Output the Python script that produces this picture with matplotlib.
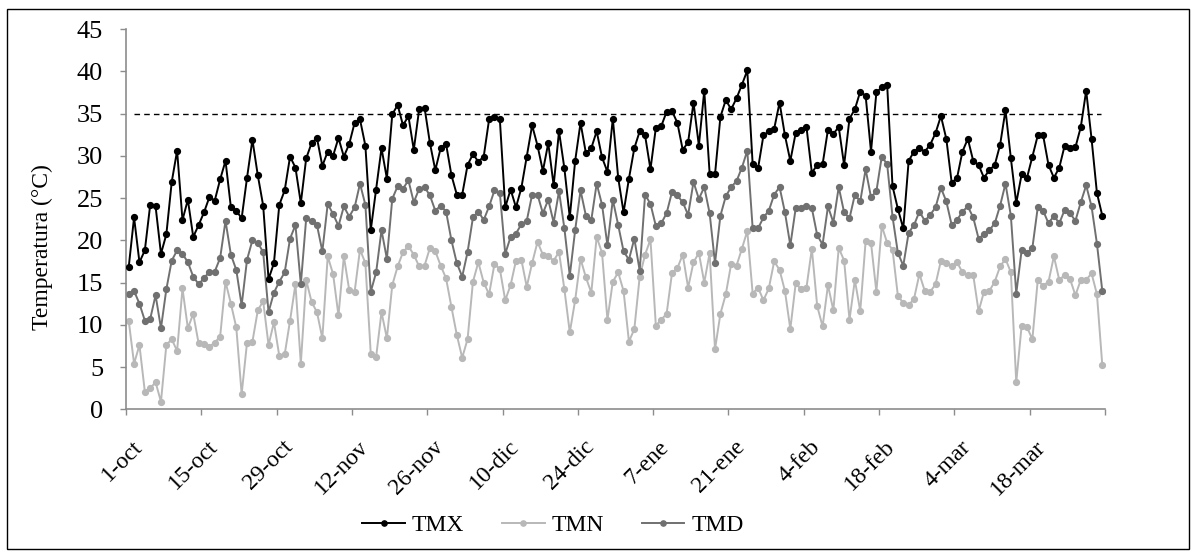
import matplotlib

matplotlib.use("Agg")
import matplotlib.pyplot as plt
import matplotlib.transforms as mtransforms
import numpy as np
from matplotlib.patches import Rectangle

# Daily temperatures, 1-oct .. 31-mar
TMX = [
    16.8, 22.7, 17.4, 18.8, 24.2, 24.0, 18.4, 20.7, 26.9, 30.6,
    22.4, 24.8, 20.4, 21.8, 23.3, 25.1, 24.7, 27.2, 29.4, 23.9,
    23.5, 22.6, 27.4, 31.9, 27.7, 24.1, 15.4, 17.3, 24.2, 25.9,
    29.9, 28.6, 24.4, 29.7, 31.5, 32.1, 28.8, 30.5, 30.0, 32.1,
    29.9, 31.4, 33.9, 34.3, 31.2, 21.2, 26.0, 30.9, 27.3, 34.9,
    36.0, 33.6, 34.7, 30.7, 35.5, 35.7, 31.5, 28.3, 30.9, 31.4,
    27.7, 25.4, 25.4, 28.9, 30.2, 29.3, 29.9, 34.3, 34.6, 34.3,
    23.9, 26.0, 23.9, 26.2, 29.9, 33.6, 31.2, 28.2, 31.5, 26.5,
    32.9, 28.5, 22.7, 29.4, 33.9, 30.3, 30.9, 32.9, 29.8, 28.1,
    34.4, 27.4, 23.3, 27.3, 30.9, 32.9, 32.4, 28.4, 33.3, 33.5,
    35.2, 35.3, 33.9, 30.7, 31.6, 36.3, 31.2, 37.7, 27.9, 27.8,
    34.6, 36.6, 35.5, 36.8, 38.4, 40.1, 29.0, 28.5, 32.4, 32.9,
    33.2, 36.3, 32.4, 29.4, 32.7, 33.1, 33.4, 28.0, 28.9, 29.0,
    33.1, 32.6, 33.4, 28.9, 34.4, 35.5, 37.6, 37.1, 30.5, 37.5,
    38.1, 38.4, 26.4, 23.7, 21.4, 29.4, 30.5, 30.9, 30.5, 31.3,
    32.7, 34.7, 32.0, 26.8, 27.4, 30.5, 32.0, 29.4, 28.9, 27.4,
    28.3, 28.9, 31.3, 35.4, 29.7, 24.4, 27.8, 27.4, 29.9, 32.4,
    32.4, 28.9, 27.4, 28.6, 31.2, 30.9, 31.0, 33.4, 37.7, 32.0,
    25.6, 22.9,
]
TMN = [
    10.5, 5.4, 7.6, 2.1, 2.5, 3.2, 0.9, 7.6, 8.3, 6.9,
    14.3, 9.6, 11.3, 7.8, 7.7, 7.4, 7.9, 8.6, 15.1, 12.5,
    9.7, 1.8, 7.9, 8.0, 11.7, 12.8, 7.6, 10.3, 6.3, 6.5,
    10.5, 14.8, 5.4, 15.3, 12.7, 11.5, 8.4, 18.1, 16.0, 11.1,
    18.1, 14.1, 13.9, 18.9, 17.3, 6.6, 6.2, 11.5, 8.4, 14.7,
    16.9, 18.6, 19.3, 18.3, 16.9, 17.0, 19.1, 18.7, 17.0, 15.5,
    12.1, 8.8, 6.1, 8.3, 15.1, 17.4, 15.0, 13.6, 17.2, 16.6,
    12.9, 14.7, 17.6, 17.7, 14.5, 17.3, 19.8, 18.3, 18.1, 17.6,
    18.6, 14.2, 9.1, 12.9, 17.8, 15.6, 13.8, 20.4, 18.5, 10.6,
    15.1, 16.2, 14.0, 8.0, 9.5, 15.7, 18.3, 20.1, 9.9, 10.6,
    11.3, 16.1, 16.7, 18.3, 14.4, 17.4, 18.5, 15.0, 18.5, 7.1,
    11.3, 13.6, 17.2, 17.0, 19.0, 21.1, 13.7, 14.4, 12.9, 14.3,
    17.5, 16.5, 14.0, 9.5, 14.9, 14.2, 14.4, 19.0, 12.2, 9.8,
    14.7, 11.7, 19.1, 17.6, 10.6, 15.3, 11.6, 19.9, 19.7, 13.9,
    21.7, 19.7, 18.9, 13.4, 12.6, 12.3, 13.1, 16.0, 14.0, 13.9,
    14.8, 17.6, 17.3, 16.9, 17.4, 16.2, 15.9, 15.9, 11.6, 13.9,
    14.0, 15.1, 16.9, 17.8, 16.2, 3.2, 9.9, 9.7, 8.3, 15.3,
    14.6, 15.1, 18.1, 15.3, 15.9, 15.4, 13.5, 15.3, 15.3, 16.1,
    13.6, 5.2,
]
TMD = [
    13.6, 14.0, 12.5, 10.5, 10.7, 13.5, 9.6, 14.2, 17.6, 18.8,
    18.4, 17.4, 15.7, 14.8, 15.5, 16.3, 16.3, 17.9, 22.3, 18.3,
    16.5, 12.3, 17.7, 20.0, 19.7, 18.6, 11.5, 13.8, 15.1, 16.2,
    20.2, 21.8, 14.8, 22.6, 22.3, 21.8, 18.7, 24.3, 23.1, 21.7,
    24.0, 22.8, 23.9, 26.7, 24.2, 13.9, 16.2, 21.2, 17.8, 24.9,
    26.4, 26.1, 27.1, 24.5, 26.1, 26.3, 25.3, 23.5, 24.1, 23.4,
    20.0, 17.3, 15.7, 18.6, 22.7, 23.4, 22.4, 24.0, 25.9, 25.6,
    18.4, 20.4, 20.8, 21.9, 22.3, 25.4, 25.4, 23.2, 24.8, 22.1,
    25.8, 21.4, 15.8, 21.2, 25.9, 22.9, 22.4, 26.7, 24.2, 19.4,
    24.8, 21.8, 18.7, 17.7, 20.2, 16.4, 25.4, 24.3, 21.7, 22.0,
    23.2, 25.7, 25.3, 24.5, 23.0, 26.9, 24.9, 26.3, 23.2, 17.3,
    22.9, 25.2, 26.3, 27.0, 28.6, 30.6, 21.4, 21.4, 22.7, 23.5,
    25.4, 26.3, 23.3, 19.4, 23.8, 23.8, 24.0, 23.8, 20.6, 19.5,
    24.0, 22.1, 26.3, 23.3, 22.6, 25.4, 24.6, 28.4, 25.1, 25.8,
    29.9, 29.0, 22.8, 18.5, 17.0, 20.9, 21.8, 23.4, 22.3, 23.0,
    23.9, 26.2, 24.6, 21.8, 22.4, 23.4, 24.0, 22.7, 20.2, 20.7,
    21.2, 22.0, 24.1, 26.7, 22.9, 13.7, 18.8, 18.5, 19.1, 23.9,
    23.5, 22.0, 22.9, 22.0, 23.6, 23.2, 22.3, 24.5, 26.5, 24.0,
    19.6, 14.0,
]
TICK_DAYS = [0, 14, 28, 42, 56, 70, 84, 98, 112, 126, 140, 154, 168, 182]
TICK_LABELS = ["1-oct", "15-oct", "29-oct", "12-nov", "26-nov", "10-dic",
               "24-dic", "7-ene", "21-ene", "4-feb", "18-feb", "4-mar",
               "18-mar", ""]
THRESHOLD = 35

plt.rcParams["font.family"] = ["Liberation Serif", "DejaVu Serif"]

fig = plt.figure(figsize=(11.96, 5.56), dpi=100)
ax = fig.add_axes([126 / 1196, 1 - 409.3 / 556, (1105 - 126) / 1196, 380.3 / 556])

days = np.arange(len(TMX)) + 0.5
ax.hlines(THRESHOLD, 1.5, 181.2, colors="black", linestyles=(0, (4, 3)), lw=1.0, zorder=1)
ax.plot(days, TMX, "-o", color="#000000", lw=1.4, ms=4.2, label="TMX", zorder=3)
ax.plot(days, TMN, "-o", color="#b8b8b8", lw=1.4, ms=4.2, label="TMN", zorder=2)
ax.plot(days, TMD, "-o", color="#707070", lw=1.4, ms=4.2, label="TMD", zorder=2)

ax.set_xlim(0, 182)
ax.set_ylim(0, 45)
ax.set_yticks(np.arange(0, 46, 5))
ax.set_xticks(TICK_DAYS)
ax.set_xticklabels(TICK_LABELS, rotation=45, ha="right", rotation_mode="anchor",
                   fontsize=17)
ax.tick_params(axis="y", labelsize=19, length=4.5, width=1, color="#8c8c8c", pad=12)
ax.tick_params(axis="x", length=4.5, width=1, color="#8c8c8c", pad=15)

# nudge the rotated date labels a little to the right, as in the original
shift = mtransforms.ScaledTranslation(4 / 72, 0, fig.dpi_scale_trans)
for lbl in ax.get_xticklabels():
    lbl.set_transform(lbl.get_transform() + shift)

fig.text(42 / 1196, 1 - 247 / 556, "Temperatura (°C)", rotation=90,
         ha="center", va="center", fontsize=17)

for side in ["top", "right"]:
    ax.spines[side].set_visible(False)
for side in ["left", "bottom"]:
    ax.spines[side].set_color("#8c8c8c")
    ax.spines[side].set_linewidth(1.2)

fig.legend(loc="center", bbox_to_anchor=(553 / 1196, 1 - 525 / 556), ncol=3,
           frameon=False, fontsize=17, handlelength=1.8, handletextpad=0.3,
           columnspacing=1.6, markerscale=0.9)

fig.patches.append(Rectangle((7 / 1196, 1 - 549 / 556), 1182 / 1196, 540 / 556,
                             transform=fig.transFigure, fill=False,
                             edgecolor="black", lw=1.0))

fig.savefig("out.png", dpi=100)
